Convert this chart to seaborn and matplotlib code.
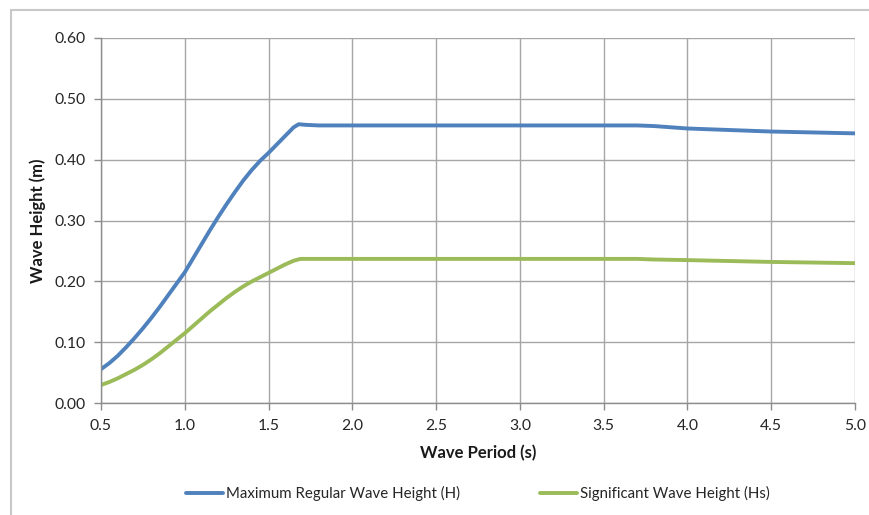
import matplotlib
matplotlib.use("Agg")
import matplotlib.pyplot as plt
import seaborn as sns
import pandas as pd
from matplotlib.patches import Rectangle

# Data
period_h = [0.5, 0.55, 0.6, 0.65, 0.7, 0.75, 0.8, 0.85, 0.9, 0.95, 1.0, 1.05, 1.1, 1.15, 1.2, 1.25,
            1.3, 1.35, 1.4, 1.45, 1.5, 1.55, 1.6, 1.65, 1.68, 1.72, 1.8, 2.0, 2.5, 3.0, 3.5, 3.7,
            3.8, 4.0, 4.5, 5.0]
height_h = [0.056, 0.066, 0.078, 0.092, 0.107, 0.123, 0.140, 0.158, 0.177, 0.196, 0.215, 0.238,
            0.261, 0.284, 0.306, 0.327, 0.347, 0.366, 0.383, 0.398, 0.411, 0.425, 0.439, 0.453,
            0.458, 0.457, 0.456, 0.456, 0.456, 0.456, 0.456, 0.456, 0.455, 0.451, 0.446, 0.443]

period_hs = [0.5, 0.55, 0.6, 0.65, 0.7, 0.75, 0.8, 0.85, 0.9, 0.95, 1.0, 1.05, 1.1, 1.15, 1.2, 1.25,
             1.3, 1.35, 1.4, 1.45, 1.5, 1.55, 1.6, 1.65, 1.69, 2.0, 2.5, 3.0, 3.5, 3.7, 3.8, 4.0,
             4.5, 5.0]
height_hs = [0.030, 0.035, 0.041, 0.048, 0.055, 0.063, 0.072, 0.082, 0.093, 0.104, 0.115, 0.127,
             0.139, 0.151, 0.162, 0.173, 0.183, 0.192, 0.200, 0.207, 0.214, 0.221, 0.228, 0.234,
             0.237, 0.237, 0.237, 0.237, 0.237, 0.237, 0.236, 0.235, 0.232, 0.230]

series_names = ["Maximum Regular Wave Height (H)", "Significant Wave Height (Hs)"]
x_ticks = [0.5, 1.0, 1.5, 2.0, 2.5, 3.0, 3.5, 4.0, 4.5, 5.0]
y_ticks = [0.0, 0.1, 0.2, 0.3, 0.4, 0.5, 0.6]

df = pd.concat([
    pd.DataFrame({"T": period_h, "H": height_h, "series": series_names[0]}),
    pd.DataFrame({"T": period_hs, "H": height_hs, "series": series_names[1]}),
], ignore_index=True)

sns.set_style("white")
plt.rcParams["font.family"] = ["Lato", "DejaVu Sans"]

fig = plt.figure(figsize=(8.7, 5.15), dpi=100)
ax = fig.add_axes([101/870, 1 - 403.3/515, (855 - 101)/870, (403.3 - 37.7)/515])

# figure border (partially cropped in reference)
fig.patches.append(Rectangle((11/870, -0.1), 1.2, 1 - 10/515 + 0.1, transform=fig.transFigure,
                             fill=False, edgecolor="#c8c8c8", linewidth=1.5, zorder=0))

sns.lineplot(data=df, x="T", y="H", hue="series", ax=ax,
             palette=["#4F81BD", "#9BBB59"], linewidth=2.8, sort=True, legend=True)

ax.set_xlim(0.5, 5.0)
ax.set_ylim(0.0, 0.6)
ax.set_xticks(x_ticks)
ax.set_xticklabels([f"{v:.1f}" for v in x_ticks])
ax.set_yticks(y_ticks)
ax.set_yticklabels([f"{v:.2f}" for v in y_ticks])
ax.grid(True, color="#a6a6a6", linewidth=1.0)
ax.set_axisbelow(True)
for s in ["top", "right"]:
    ax.spines[s].set_visible(False)
for s in ["left", "bottom"]:
    ax.spines[s].set_color("#8c8c8c")
    ax.spines[s].set_linewidth(1.0)
ax.tick_params(axis="both", which="major", direction="out", length=5, width=1.0,
               color="#8c8c8c", labelsize=11.3, labelcolor="#262626", pad=6)
ax.tick_params(left=True, bottom=True)

ax.set_xlabel("Wave Period (s)", fontsize=12, fontweight="bold", color="#1a1a1a", labelpad=9)
ax.set_ylabel("Wave Height (m)", fontsize=12, fontweight="bold", color="#1a1a1a", labelpad=6)

leg = ax.legend(loc="upper center", bbox_to_anchor=(0.5, -0.19), ncol=2, frameon=False,
                fontsize=10.8, handlelength=2.5, handletextpad=0.2, columnspacing=5.3)
for line in leg.get_lines():
    line.set_linewidth(2.8)

fig.savefig("out.png", dpi=100)
